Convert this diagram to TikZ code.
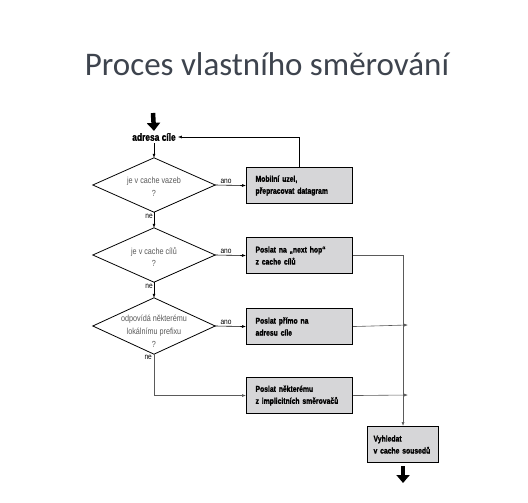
\documentclass[tikz,border=0pt]{standalone}
\usepackage{fontspec}
\setmainfont{Liberation Sans}
\newfontfamily\titlefont{Carlito}
\newfontfamily\condbf[FakeStretch=0.8,FakeBold=1.2]{Liberation Sans Bold}
\newfontfamily\dfont[FakeStretch=0.82]{Liberation Sans}
\usetikzlibrary{arrows.meta}
\definecolor{titlecol}{RGB}{62,68,78}
\definecolor{boxfill}{RGB}{214,214,216}
\definecolor{linegray}{RGB}{90,90,90}
\tikzset{
  decision/.style={minimum width=122pt, minimum height=54pt, inner sep=0pt},
  dtext/.style={align=center, text=black!65, inner sep=0pt, font=\dfont\fontsize{8.8}{12.8}\selectfont},
  dline/.style={draw=black, line width=0.8pt},
  actbox/.style={draw=black, line width=1.1pt, fill=boxfill, align=left, font=\condbf\fontsize{8.5}{12}\selectfont, anchor=north west, inner xsep=9pt, inner ysep=0pt},
  flow/.style={line width=0.6pt, -{Latex[length=4pt,width=3pt]}},
  flowg/.style={line width=0.6pt, draw=linegray, -{Latex[length=4pt,width=3pt]}},
  lbl/.style={font=\dfont\fontsize{8}{9}\selectfont, inner sep=1pt},
  bigarrow/.style={line width=4.5pt, -{Triangle[length=8pt,width=13pt]}}
}
\begin{document}
\begin{tikzpicture}[x=1pt,y=-1pt]
\useasboundingbox (0,0) rectangle (528,503);
\fill[white] (0,0) rectangle (528,503);
\node[text=titlecol, font=\titlefont\fontsize{33}{38}\selectfont] (title) at (267,64) {Proces vlastního směrování};

\coordinate (start) at (153,113);
\node[font=\condbf\fontsize{10.5}{12}\selectfont, inner sep=2pt] (adr) at (154,137) {adresa cíle};
\draw[bigarrow] (start) -- (adr.north);

\node[decision] (d1) at (154,185) {};
\node[decision] (d2) at (154,255) {};
\node[decision, minimum height=56pt] (d3) at (154,326) {};
\foreach \d in {d1,d2,d3} {
  \draw[dline] (\d.north) -- (\d.east) -- (\d.south) -- (\d.west) -- cycle;
}
\node[dtext] (t1) at (154,187) {je v cache vazeb\\?};
\node[dtext] (t2) at (154,257) {je v cache cílů\\?};
\node[dtext] (t3) at (154,331) {odpovídá některému\\lokálnímu prefixu\\?};

\node[actbox, minimum width=106pt, minimum height=36pt, text width=88pt] (b1) at (246,167) {Mobilní uzel,\\přepracovat datagram};
\node[actbox, minimum width=106pt, minimum height=36pt, text width=88pt] (b2) at (246,237) {Poslat na „next hop“\\z cache cílů};
\node[actbox, minimum width=106pt, minimum height=36pt, text width=88pt] (b3) at (246,308) {Poslat přímo na\\adresu cíle};
\node[actbox, minimum width=106pt, minimum height=36pt, text width=88pt] (b4) at (246,377) {Poslat některému\\z implicitních směrovačů};
\node[actbox, minimum width=71pt, minimum height=36pt, text width=59pt, inner xsep=6pt] (b5) at (367,426) {Vyhledat\\v cache sousedů};

\coordinate (j3) at (408,325);
\coordinate (j4) at (408,395);
\coordinate (endc) at (b5.south |- 0,483);

\draw[flow] (adr.south) -- (d1.north);
\draw[flow] (b1.north) |- (adr.east);
\draw[flow] (d1.east) -- node[lbl, above, pos=0.35] {ano} (b1.west);
\draw[flow] (d1.south) -- node[lbl, left, pos=0.3] {ne} (d2.north);
\draw[flow] (d2.east) -- node[lbl, above, pos=0.35] {ano} (b2.west);
\draw[flow] (d2.south) -- node[lbl, left, pos=0.3] {ne} (d3.north);
\draw[flow] (d3.east) -- node[lbl, above, pos=0.35] {ano} (b3.west);
\draw[flowg] (d3.south) |- (b4.west);
\node[lbl, anchor=east] (ne3) at (153,357) {ne};
\draw[flowg] (b2.east) -| (b5.north);
\draw[flowg] (b3.east) -- (j3);
\draw[flowg] (b4.east) -- (j4);
\draw[bigarrow] (b5.south) ++(0,3) coordinate (b5s) (b5s) -- (endc);
\end{tikzpicture}
\end{document}
